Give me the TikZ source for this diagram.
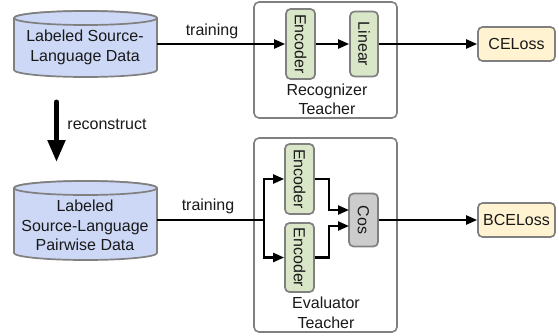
\documentclass[tikz,border=0pt]{standalone}
\usepackage{fontspec}
\setmainfont{Liberation Sans}
\usetikzlibrary{arrows.meta}
\definecolor{edgegray}{HTML}{808080}
\definecolor{dbblue}{HTML}{CCD8F5}
\definecolor{encgreen}{HTML}{D9E6C8}
\definecolor{lossyellow}{HTML}{FFF3D2}
\definecolor{cosgray}{HTML}{CCCCCC}
\tikzset{
  txt/.style={font=\fontsize{16}{19.5}\selectfont,align=center,inner sep=0pt,text=black!90},
  dbtext/.style={txt,minimum width=143pt,text depth=0pt},
  dbshape/.style={draw=edgegray,line width=1.7pt,fill=dbblue},
  teacher/.style={draw=edgegray,line width=1.6pt,rounded corners=5pt,fill=white,inner sep=0pt},
  block/.style={txt,draw=edgegray,line width=1.7pt,rounded corners=4.5pt,rotate=-90,inner sep=0pt},
  enc/.style={block,fill=encgreen},
  opgray/.style={block,fill=cosgray},
  loss/.style={txt,draw=edgegray,line width=1.7pt,rounded corners=4.5pt,fill=lossyellow,minimum width=77pt,minimum height=34pt},
  conn/.style={draw=black,line width=2.3pt,-{Triangle[length=11pt,width=9pt]}},
  plainconn/.style={draw=black,line width=2.3pt},
  bigarrow/.style={draw=black,line width=5pt,line cap=round,-{Triangle[length=22pt,width=17pt]}}
}
\newcommand{\dbcylinder}[3]{% top y, bottom y, ellipse radius
  \path[dbshape] (14,#1+#3) arc[start angle=180,end angle=360,x radius=71.5,y radius=#3]
    -- (157,#2-#3) arc[start angle=0,end angle=-180,x radius=71.5,y radius=-#3] -- cycle;
  \path[dbshape] (14,#1+#3) arc[start angle=180,end angle=0,x radius=71.5,y radius=#3]
    arc[start angle=0,end angle=-180,x radius=71.5,y radius=#3];
}
\begin{document}
\begin{tikzpicture}[x=1pt,y=-1pt]
\useasboundingbox[fill=white] (0,0) rectangle (559,335);
% databases
\dbcylinder{11}{77}{7}
\dbcylinder{181}{260}{7}
\node[dbtext,minimum height=66pt] (db1) at (85.5,44) {};
\node[txt] (db1text) at (85,47.5) {Labeled Source-\\Language Data};
\node[dbtext,minimum height=80pt] (db2) at (85.5,220) {};
\node[txt] (db2text) at (85,225.5) {Labeled\\Source-Language\\Pairwise Data};
% teacher frames
\node[teacher,minimum width=143pt,minimum height=116pt] (t1) at (325.5,60) {};
\node[teacher,minimum width=143pt,minimum height=194pt] (t2) at (325.5,235) {};
% blocks (rotated clockwise: node south faces left, node north faces right)
\node[enc,minimum width=70pt,minimum height=29pt] (enc1) at (300.5,44) {Encoder};
\node[enc,minimum width=65pt,minimum height=28pt] (lin) at (364,44) {Linear};
\node[enc,minimum width=70pt,minimum height=29pt] (enc2) at (299.5,179) {Encoder};
\node[enc,minimum width=69pt,minimum height=29pt] (enc3) at (299.5,257.5) {Encoder};
\node[opgray,minimum width=53pt,minimum height=29pt] (cos) at (363.5,220) {Cos};
\node[loss] (ce) at (516.5,44) {CELoss};
\node[loss] (bce) at (516.5,220) {BCELoss};
% texts
\node[txt] (l1) at (327,99.5) {Recognizer\\Teacher};
\node[txt] (l2) at (326,313) {Evaluator\\Teacher};
\node[txt] (tr1) at (212,31) {training};
\node[txt] (tr2) at (208,206) {training};
\node[txt] (rec) at (107,124) {reconstruct};
% connectors
\draw[conn] (db1.east) -- (enc1.south);
\draw[conn] (enc1.north) -- (lin.south);
\draw[conn] (lin.north) -- (ce.west);
\coordinate (split) at (264,220);
\coordinate (cosa) at (349,210);
\coordinate (cosb) at (349,226);
\coordinate (recs) at (56.5,102);
\coordinate (rece) at (56.5,162);
\draw[plainconn] (db2.east) -- (split);
\draw[conn] (split) |- (enc2.south);
\draw[conn] (split) |- (enc3.south);
\draw[conn] (enc2.north) -| (329,210) -- (cosa);
\draw[conn] (enc3.north) -| (329,226) -- (cosb);
\draw[conn] (cos.north) -- (bce.west);
\draw[bigarrow] (recs) -- (rece);
\end{tikzpicture}
\end{document}
